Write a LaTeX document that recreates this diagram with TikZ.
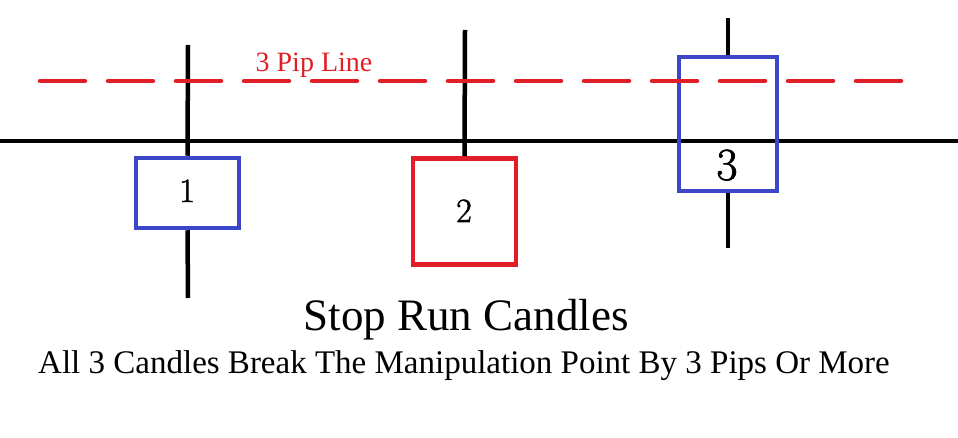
\documentclass[tikz,border=0pt]{standalone}
\usepackage{fontspec}
\newfontfamily\capfont{Liberation Serif}
\newfontfamily\digfont[FakeBold=1.5]{Latin Modern Roman}
\definecolor{candleblue}{RGB}{60,70,200}
\definecolor{candlered}{RGB}{225,30,40}
\begin{document}
\begin{tikzpicture}[x=1pt,y=-1pt,
  wick/.style={line width=4.5pt,black},
  bluebox/.style={draw=candleblue,line width=4.5pt,fill=white,inner sep=0pt},
  redbox/.style={draw=candlered,line width=4.5pt,fill=white,inner sep=0pt},
  digit/.style={inner sep=0pt,anchor=base},
  pipline/.style={candlered,line width=4.5pt,line cap=round,dash pattern=on 45pt off 23pt}]
\useasboundingbox[fill=white] (0,0) rectangle (958,438);
% manipulation point line
\coordinate (mpl) at (0,141);
\coordinate (mpr) at (958,141);
\draw[line width=4.5pt] (mpl) -- (mpr);
% candle 1
\coordinate (c1top) at (188,45);
\coordinate (c1bot) at (188,298);
\node[bluebox,minimum width=103pt,minimum height=70pt] (b1) at (187.5,193) {};
\draw[wick] (c1top) -- (b1.north);
\draw[wick] (b1.south) -- (c1bot);
\node[digit,font=\digfont\fontsize{34}{36}\selectfont] (n1) at (187,202) {1};
% candle 2
\coordinate (c2top) at (465,30);
\node[redbox,minimum width=103pt,minimum height=106pt] (b2) at (464.5,211.5) {};
\draw[wick] (c2top) -- (b2.north);
\node[digit,font=\digfont\fontsize{34}{36}\selectfont] (n2) at (464,222) {2};
% candle 3
\coordinate (c3top) at (728,18);
\coordinate (c3bot) at (728,248);
\node[bluebox,fill=none,minimum width=98pt,minimum height=134pt] (b3) at (728,124) {};
\draw[wick] (c3top) -- (b3.north);
\draw[wick] (b3.south) -- (c3bot);
\node[digit,font=\digfont\fontsize{46}{48}\selectfont] (n3) at (727,180) {3};
% 3 pip line
\coordinate (pl) at (40,81);
\coordinate (pr) at (902,81);
\draw[pipline] (pl) -- (pr);
\node[inner sep=0pt,anchor=base,text=candlered,font=\capfont\fontsize{28}{30}\selectfont] (pipt) at (314,72) {3 Pip Line};
% captions
\node[inner sep=0pt,anchor=base,font=\capfont\fontsize{45}{50}\selectfont] (title) at (466,330) {Stop Run Candles};
\node[inner sep=0pt,anchor=base,font=\capfont\fontsize{33}{36}\selectfont] (sub) at (464,373) {All 3 Candles Break The Manipulation Point By 3 Pips Or More};
\end{tikzpicture}
\end{document}
